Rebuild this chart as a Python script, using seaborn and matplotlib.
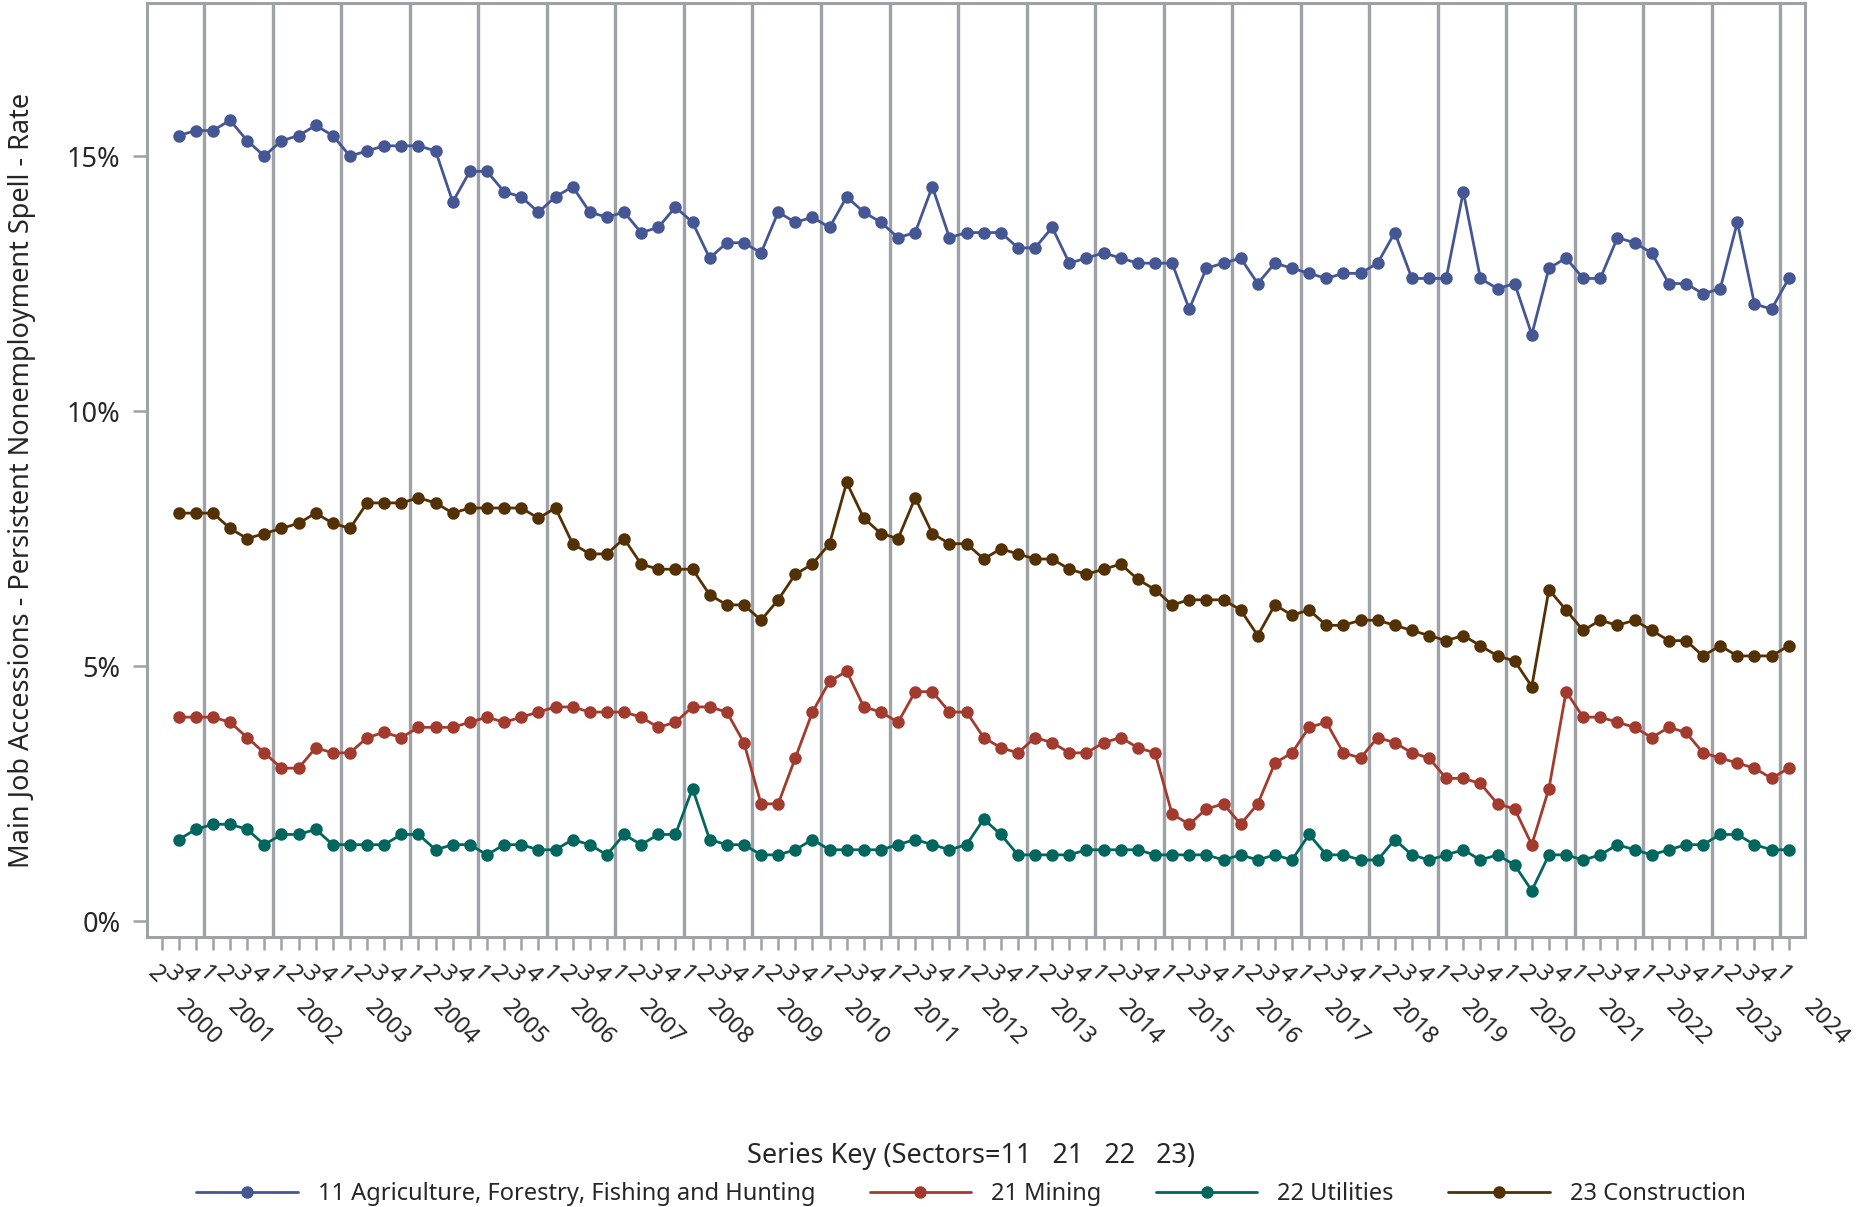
import numpy as np
import pandas as pd
import matplotlib
matplotlib.use("Agg")
import matplotlib.pyplot as plt
import seaborn as sns

# ---------------- data ----------------
# quarters on the axis: 2000Q2 .. 2024Q1 ; data available from 2000Q3
years = list(range(2000, 2025))
axis_quarters = [(2000, q) for q in (2, 3, 4)] + [(y, q) for y in range(2001, 2024) for q in (1, 2, 3, 4)] + [(2024, 1)]
quarter_labels = [str(q) for (_, q) in axis_quarters]

sector_names = [
    "11 Agriculture, Forestry, Fishing and Hunting",
    "21 Mining",
    "22 Utilities",
    "23 Construction",
]
sector_colors = ["#445694", "#A23A2E", "#01665E", "#543005"]

# values in %, 2000Q3 .. 2024Q1 (95 quarters)
agriculture = [
    15.4, 15.5,
    15.5, 15.7, 15.3, 15.0,
    15.3, 15.4, 15.6, 15.4,
    15.0, 15.1, 15.2, 15.2,
    15.2, 15.1, 14.1, 14.7,
    14.7, 14.3, 14.2, 13.9,
    14.2, 14.4, 13.9, 13.8,
    13.9, 13.5, 13.6, 14.0,
    13.7, 13.0, 13.3, 13.3,
    13.1, 13.9, 13.7, 13.8,
    13.6, 14.2, 13.9, 13.7,
    13.4, 13.5, 14.4, 13.4,
    13.5, 13.5, 13.5, 13.2,
    13.2, 13.6, 12.9, 13.0,
    13.1, 13.0, 12.9, 12.9,
    12.9, 12.0, 12.8, 12.9,
    13.0, 12.5, 12.9, 12.8,
    12.7, 12.6, 12.7, 12.7,
    12.9, 13.5, 12.6, 12.6,
    12.6, 14.3, 12.6, 12.4,
    12.5, 11.5, 12.8, 13.0,
    12.6, 12.6, 13.4, 13.3,
    13.1, 12.5, 12.5, 12.3,
    12.4, 13.7, 12.1, 12.0,
    12.6,
]
mining = [
    4.0, 4.0,
    4.0, 3.9, 3.6, 3.3,
    3.0, 3.0, 3.4, 3.3,
    3.3, 3.6, 3.7, 3.6,
    3.8, 3.8, 3.8, 3.9,
    4.0, 3.9, 4.0, 4.1,
    4.2, 4.2, 4.1, 4.1,
    4.1, 4.0, 3.8, 3.9,
    4.2, 4.2, 4.1, 3.5,
    2.3, 2.3, 3.2, 4.1,
    4.7, 4.9, 4.2, 4.1,
    3.9, 4.5, 4.5, 4.1,
    4.1, 3.6, 3.4, 3.3,
    3.6, 3.5, 3.3, 3.3,
    3.5, 3.6, 3.4, 3.3,
    2.1, 1.9, 2.2, 2.3,
    1.9, 2.3, 3.1, 3.3,
    3.8, 3.9, 3.3, 3.2,
    3.6, 3.5, 3.3, 3.2,
    2.8, 2.8, 2.7, 2.3,
    2.2, 1.5, 2.6, 4.5,
    4.0, 4.0, 3.9, 3.8,
    3.6, 3.8, 3.7, 3.3,
    3.2, 3.1, 3.0, 2.8,
    3.0,
]
utilities = [
    1.6, 1.8,
    1.9, 1.9, 1.8, 1.5,
    1.7, 1.7, 1.8, 1.5,
    1.5, 1.5, 1.5, 1.7,
    1.7, 1.4, 1.5, 1.5,
    1.3, 1.5, 1.5, 1.4,
    1.4, 1.6, 1.5, 1.3,
    1.7, 1.5, 1.7, 1.7,
    2.6, 1.6, 1.5, 1.5,
    1.3, 1.3, 1.4, 1.6,
    1.4, 1.4, 1.4, 1.4,
    1.5, 1.6, 1.5, 1.4,
    1.5, 2.0, 1.7, 1.3,
    1.3, 1.3, 1.3, 1.4,
    1.4, 1.4, 1.4, 1.3,
    1.3, 1.3, 1.3, 1.2,
    1.3, 1.2, 1.3, 1.2,
    1.7, 1.3, 1.3, 1.2,
    1.2, 1.6, 1.3, 1.2,
    1.3, 1.4, 1.2, 1.3,
    1.1, 0.6, 1.3, 1.3,
    1.2, 1.3, 1.5, 1.4,
    1.3, 1.4, 1.5, 1.5,
    1.7, 1.7, 1.5, 1.4,
    1.4,
]
construction = [
    8.0, 8.0,
    8.0, 7.7, 7.5, 7.6,
    7.7, 7.8, 8.0, 7.8,
    7.7, 8.2, 8.2, 8.2,
    8.3, 8.2, 8.0, 8.1,
    8.1, 8.1, 8.1, 7.9,
    8.1, 7.4, 7.2, 7.2,
    7.5, 7.0, 6.9, 6.9,
    6.9, 6.4, 6.2, 6.2,
    5.9, 6.3, 6.8, 7.0,
    7.4, 8.6, 7.9, 7.6,
    7.5, 8.3, 7.6, 7.4,
    7.4, 7.1, 7.3, 7.2,
    7.1, 7.1, 6.9, 6.8,
    6.9, 7.0, 6.7, 6.5,
    6.2, 6.3, 6.3, 6.3,
    6.1, 5.6, 6.2, 6.0,
    6.1, 5.8, 5.8, 5.9,
    5.9, 5.8, 5.7, 5.6,
    5.5, 5.6, 5.4, 5.2,
    5.1, 4.6, 6.5, 6.1,
    5.7, 5.9, 5.8, 5.9,
    5.7, 5.5, 5.5, 5.2,
    5.4, 5.2, 5.2, 5.2,
    5.4,
]
series_values = [agriculture, mining, utilities, construction]

y_ticks = [0, 5, 10, 15]
y_tick_labels = ["0%", "5%", "10%", "15%"]
y_title = "Main Job Accessions - Persistent Nonemployment Spell - Rate"
legend_title = "Series Key (Sectors=11   21   22   23)"

# ---------------- build table ----------------
n_axis = len(axis_quarters)
data_idx = np.arange(1, n_axis)  # first axis slot (2000Q2) has no data
rows = []
for name, vals in zip(sector_names, series_values):
    assert len(vals) == len(data_idx), (name, len(vals))
    for i, v in zip(data_idx, vals):
        rows.append({"idx": i, "rate": v, "sector": name})
df = pd.DataFrame(rows)

# ---------------- style ----------------
sns.set_style("white")
plt.rcParams["font.family"] = ["Noto Sans", "DejaVu Sans"]
FS = 17
GRAY = "#9EA2A6"

W, H = 1859, 1207
fig = plt.figure(figsize=(W / 100, H / 100), dpi=100)
ax_l, ax_r, ax_t, ax_b = 147, 1805, 3, 937
ax = fig.add_axes([ax_l / W, 1 - ax_b / H, (ax_r - ax_l) / W, (ax_b - ax_t) / H])

# year separators
for k in range(24):
    ax.axvline(2.5 + 4 * k, color=GRAY, lw=2.4, zorder=0)

sns.lineplot(
    data=df, x="idx", y="rate", hue="sector", hue_order=sector_names,
    palette=sector_colors, marker="o", markersize=9, markeredgewidth=0,
    linewidth=2.0, ax=ax, zorder=3,
)

ax.set_xlim(-0.85, 95.95)
ax.set_ylim(-0.31, 18.0)

ax.set_yticks(y_ticks)
ax.set_yticklabels(y_tick_labels, fontsize=19.5)
ax.set_xticks(np.arange(n_axis))
ax.set_xticklabels([])
ax.tick_params(axis="y", which="major", left=True, length=10, width=1.8, color=GRAY, pad=9)
ax.tick_params(axis="x", which="major", bottom=True, length=9.4, width=1.8, color=GRAY)
for sp in ax.spines.values():
    sp.set_color(GRAY)
    sp.set_linewidth(2.2)
ax.set_xlabel("")
ax.set_ylabel("")

# quarter labels
xt = ax.get_xaxis_transform()
qy = (ax_b - 975) / (ax_b - ax_t)
for i, lab in enumerate(quarter_labels):
    ax.text(i - 0.35, qy, lab, transform=xt, rotation=-45, ha="center", va="center",
            fontsize=FS, clip_on=False)

# year labels
yy = (ax_b - 995) / (ax_b - ax_t)
first_idx = {}
for i, (yr, q) in enumerate(axis_quarters):
    first_idx.setdefault(yr, i)
for yr in years:
    ax.text(first_idx[yr] + 0.55, yy, str(yr), transform=xt, rotation=-45, ha="left", va="top",
            fontsize=FS, clip_on=False)

# y title
fig.text(22 / W, 1 - 480 / H, y_title, rotation=90, ha="center", va="center", fontsize=19.5)

# legend
sns.move_legend(
    ax, "upper center", bbox_to_anchor=(971 / W, 1 - 1133 / H), bbox_transform=fig.transFigure,
    ncol=4, frameon=False, title=legend_title, fontsize=FS, title_fontsize=19.5,
    handlelength=4.3, handletextpad=0.85, columnspacing=2.3, borderaxespad=0,
)

fig.savefig("out.png", dpi=100)
